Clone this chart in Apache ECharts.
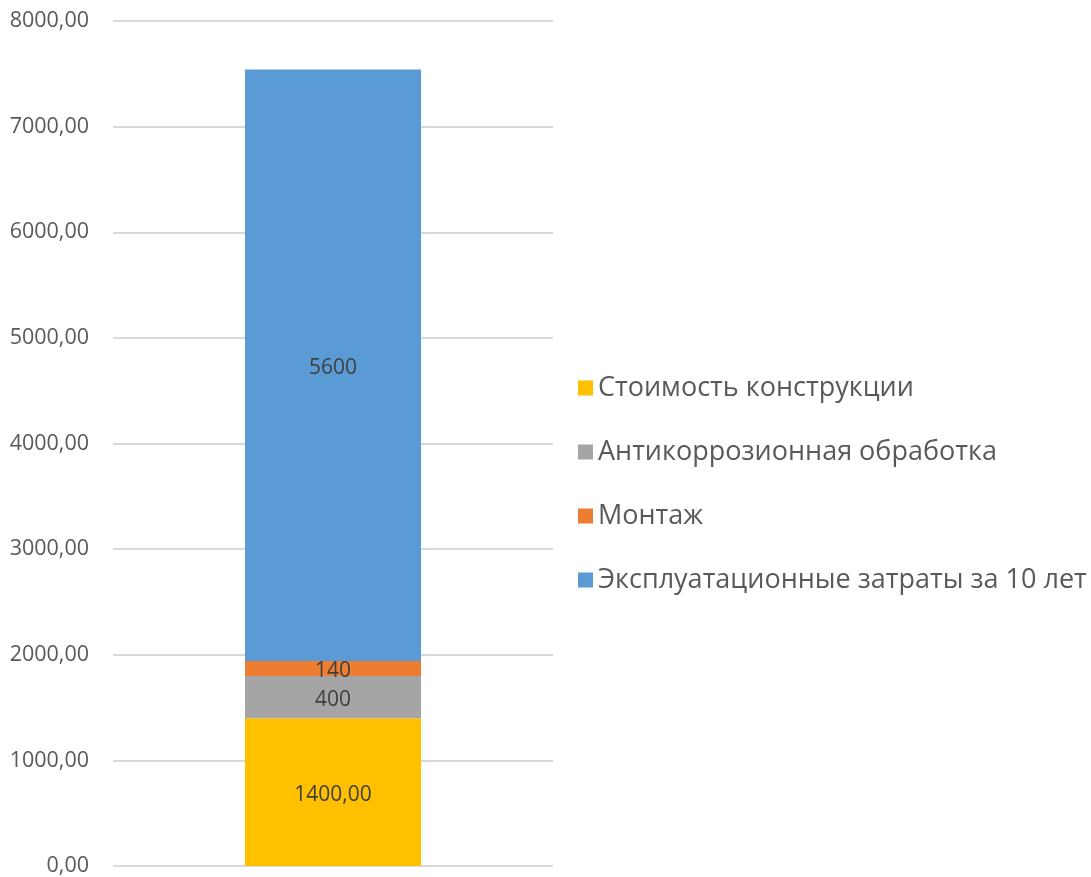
<!DOCTYPE html>
<html><head><meta charset="utf-8">
<script src="https://cdn.jsdelivr.net/npm/echarts@6/dist/echarts.min.js"></script>
<style>html,body{margin:0;padding:0;background:#fff}#c{width:1091px;height:877px}</style>
</head><body><div id="c"></div>
<script>
const categories = [''];
const seriesNames = ['Стоимость конструкции', 'Антикоррозионная обработка', 'Монтаж', 'Эксплуатационные затраты за 10 лет'];
const constructionCost = [1400];
const anticorrosion = [400];
const mounting = [140];
const operating = [5600];
const colors = ['#FFC000', '#A5A5A5', '#ED7D31', '#5B9BD5'];
const values = [constructionCost, anticorrosion, mounting, operating];
const labelFormats = [v => v.toFixed(2).replace('.', ','), v => String(v), v => String(v), v => String(v)];

const chart = echarts.init(document.getElementById('c'));
chart.setOption({
  animation: false,
  textStyle: { fontFamily: 'Open Sans, Noto Sans, sans-serif' },
  grid: { left: 113, right: 538, top: 21, bottom: 9 },
  legend: {
    orient: 'vertical', left: 573, top: 368,
    data: seriesNames,
    icon: 'rect', itemWidth: 15, itemHeight: 15, itemGap: 34, itemTextGap: 9,
    textStyle: { fontSize: 27, lineHeight: 30, color: '#595959', fontFamily: 'Open Sans, sans-serif' }
  },
  xAxis: {
    type: 'category', data: categories,
    axisLine: { show: false }, axisTick: { show: false }, axisLabel: { show: false }
  },
  yAxis: {
    type: 'value', min: 0, max: 8000, interval: 1000,
    axisLine: { show: false }, axisTick: { show: false },
    axisLabel: { fontSize: 21.5, color: '#595959', margin: 24, formatter: v => v.toFixed(2).replace('.', ',') },
    splitLine: { lineStyle: { color: '#d9d9d9', width: 2 } }
  },
  series: seriesNames.map((n, i) => ({
    name: n, type: 'bar', stack: 'total', data: values[i], barWidth: '40%',
    itemStyle: { color: colors[i] },
    label: { show: true, position: 'inside', fontSize: 21, color: '#404040', offset: [0, 3], formatter: p => labelFormats[i](p.value) }
  }))
});
</script></body></html>
